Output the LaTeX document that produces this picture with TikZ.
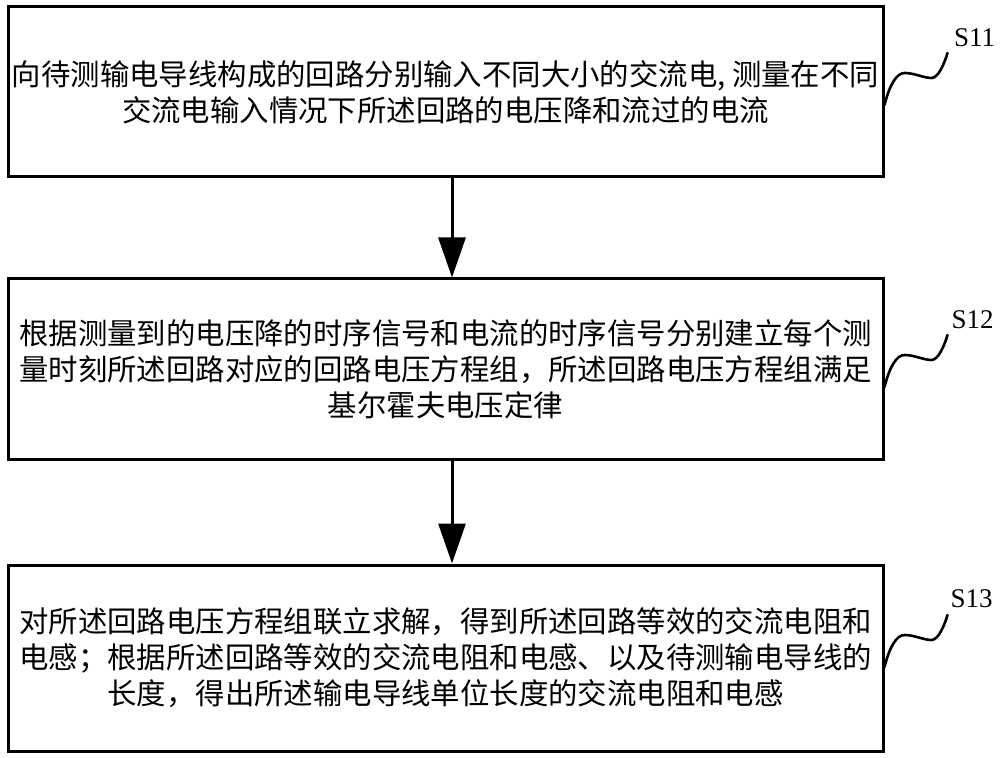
\documentclass[tikz,border=0pt]{standalone}
\usepackage{fontspec}
\setmainfont{Liberation Serif}
\newfontfamily\cjk{Noto Sans CJK SC}
\usetikzlibrary{arrows.meta}
\begin{document}
\begin{tikzpicture}[x=0.5pt,y=-0.5pt,
  stepbox/.style={draw,line width=1.5pt,minimum width=437.5pt,inner sep=0pt,align=center,
    font=\cjk\fontsize{14.7}{18}\selectfont},
  flow/.style={line width=1.5pt,-{Triangle[length=20pt,width=13.5pt]}},
  wave/.style={line width=1.3pt,line cap=round},
  steplabel/.style={font=\fontsize{13.5}{16}\selectfont,inner sep=0pt}]
\path[use as bounding box] (0,0) rectangle (1000,758);

\node[stepbox,minimum height=85pt] (b1) at (445.5,92)
  {向待测输电导线构成的回路分别输入不同大小的交流电, 测量在不同\\交流电输入情况下所述回路的电压降和流过的电流};
\node[stepbox,minimum height=90.5pt] (b2) at (445.5,369.5)
  {根据测量到的电压降的时序信号和电流的时序信号分别建立每个测\\量时刻所述回路对应的回路电压方程组，所述回路电压方程组满足\\基尔霍夫电压定律};
\node[stepbox,minimum height=93pt] (b3) at (445.5,658)
  {对所述回路电压方程组联立求解，得到所述回路等效的交流电阻和\\电感；根据所述回路等效的交流电阻和电感、以及待测输电导线的\\长度，得出所述输电导线单位长度的交流电阻和电感};

\draw[flow] ([xshift=3.25pt]b1.south) -- ([xshift=3.25pt]b2.north);
\draw[flow] ([xshift=3.25pt]b2.south) -- ([xshift=3.25pt]b3.north);

\draw[wave] ([yshift=-6.5pt]b1.east) .. controls +(5,-20) and +(-8,0) .. ++(20,-32)
  .. controls +(10,0) and +(-8,0) .. ++(27,5)
  .. controls +(7,0) and +(-3,10) .. ++(16,-25) coordinate (w1);
\node[steplabel] (l1) at ([shift={(27,-15.5)}]w1) {S11};

\draw[wave] ([yshift=-8.75pt]b2.east) .. controls +(5,-20) and +(-8,0) .. ++(20,-32)
  .. controls +(10,0) and +(-8,0) .. ++(27,5)
  .. controls +(7,0) and +(-3,10) .. ++(16,-25) coordinate (w2);
\node[steplabel] (l2) at ([shift={(25,-15)}]w2) {S12};

\draw[wave] ([yshift=-4.5pt]b3.east) .. controls +(5,-20) and +(-8,0) .. ++(20,-32)
  .. controls +(10,0) and +(-8,0) .. ++(27,5)
  .. controls +(7,0) and +(-3,10) .. ++(16,-25) coordinate (w3);
\node[steplabel] (l3) at ([shift={(24,-16)}]w3) {S13};
\end{tikzpicture}
\end{document}
